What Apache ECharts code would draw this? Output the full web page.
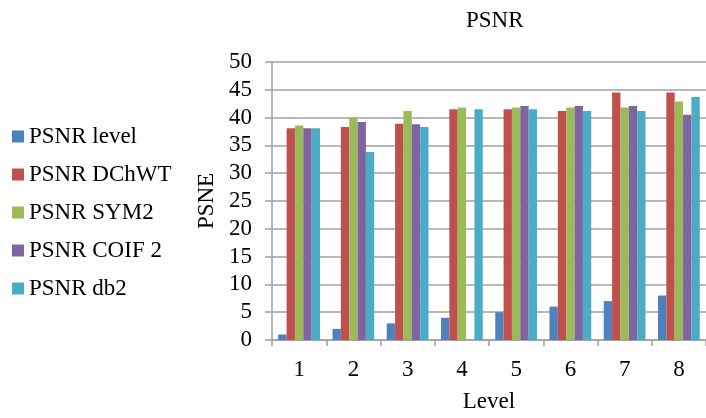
<!DOCTYPE html>
<html>
<head>
<meta charset="utf-8">
<script src="https://cdn.jsdelivr.net/npm/echarts@6/dist/echarts.min.js"></script>
<style>html,body{margin:0;padding:0;background:#fff;}#c{width:706px;height:418px;}</style>
</head>
<body>
<div id="c"></div>
<script>
var categories = ['1','2','3','4','5','6','7','8'];
var psnrLevel = [1, 2, 3, 4, 5, 6, 7, 8];
var psnrDChWT = [38.1, 38.3, 38.9, 41.5, 41.5, 41.2, 44.5, 44.5];
var psnrSYM2 = [38.6, 40.0, 41.2, 41.8, 41.8, 41.8, 41.8, 42.9];
var psnrCOIF2 = [38.1, 39.2, 38.8, null, 42.1, 42.1, 42.1, 40.5];
var psnrDb2 = [38.1, 33.8, 38.3, 41.5, 41.5, 41.2, 41.2, 43.7];
var seriesNames = ['PSNR level', 'PSNR DChWT', 'PSNR SYM2', 'PSNR COIF 2', 'PSNR db2'];
var seriesData = [psnrLevel, psnrDChWT, psnrSYM2, psnrCOIF2, psnrDb2];
var colors = ['#4F81BD', '#C0504D', '#9BBB59', '#8064A2', '#4BACC6'];

var font = '"Liberation Serif", "Times New Roman", serif';
var fs = 23;
var chart = echarts.init(document.getElementById('c'), null, {renderer: 'canvas'});
chart.setOption({
  animation: false,
  color: colors,
  textStyle: {fontFamily: font, color: '#000'},
  title: {
    text: 'PSNR', left: 461, top: 4,
    textStyle: {fontFamily: font, fontSize: fs, fontWeight: 'normal', color: '#000'}
  },
  legend: {
    orient: 'vertical', left: 7, top: 120,
    itemWidth: 12, itemHeight: 12, itemGap: 15,
    icon: 'rect',
    textStyle: {fontFamily: font, fontSize: fs, color: '#000'},
    data: seriesNames
  },
  grid: {left: 272, top: 62, bottom: 75, right: -9, containLabel: false},
  xAxis: {
    type: 'category', data: categories,
    name: 'Level', nameLocation: 'middle', nameGap: 50,
    nameTextStyle: {fontFamily: font, fontSize: fs, color: '#000'},
    axisLine: {lineStyle: {color: '#a0a0a0', width: 1.5}},
    axisTick: {show: true, length: 6, lineStyle: {color: '#a0a0a0', width: 1.5}},
    axisLabel: {fontFamily: font, fontSize: fs, color: '#000', margin: 18}
  },
  yAxis: {
    type: 'value', min: 0, max: 50, interval: 5,
    name: 'PSNE', nameLocation: 'middle', nameGap: 54, nameRotate: 90,
    nameTextStyle: {fontFamily: font, fontSize: fs, color: '#000'},
    axisLine: {show: true, lineStyle: {color: '#a0a0a0', width: 1.5}},
    axisTick: {show: true, length: 7, lineStyle: {color: '#a0a0a0', width: 1.5}},
    axisLabel: {fontFamily: font, fontSize: fs, color: '#000', margin: 20},
    splitLine: {lineStyle: {color: '#a0a0a0', width: 1.5}}
  },
  series: seriesNames.map(function (n, i) {
    return {
      name: n, type: 'bar', data: seriesData[i],
      barGap: '0%', barCategoryGap: '23%',
      itemStyle: {color: colors[i]}
    };
  })
});
</script>
</body>
</html>
